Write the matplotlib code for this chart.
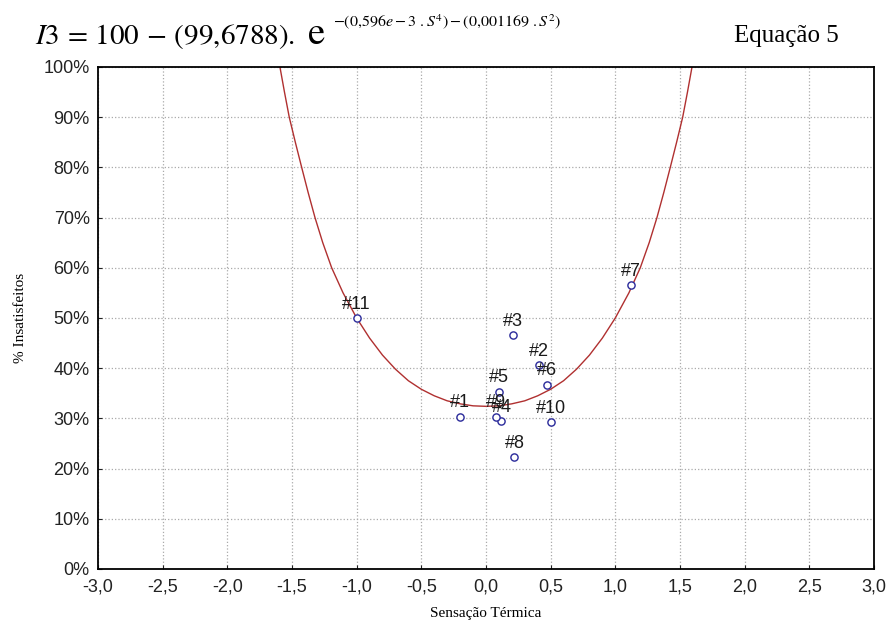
import matplotlib
matplotlib.use('Agg')
from matplotlib import pyplot as plt
from matplotlib.ticker import FuncFormatter, MultipleLocator

plt.rcParams['mathtext.fontset'] = 'stix'

# observed points (sensação térmica, % insatisfeitos)
labels = ['#1', '#2', '#3', '#4', '#5', '#6', '#7', '#8', '#9', '#10', '#11']
sens = [-0.20, 0.41, 0.21, 0.12, 0.10, 0.47, 1.12, 0.22, 0.08, 0.50, -1.00]
insat = [30.3, 40.6, 46.6, 29.4, 35.3, 36.7, 56.5, 22.3, 30.3, 29.3, 50.0]

# fitted curve
curve_s = [-1.593, -1.558, -1.521, -1.474, -1.425, -1.375, -1.322, -1.262, -1.193,
           -1.105, -1.0, -0.9, -0.8, -0.7, -0.6, -0.5, -0.4, -0.3, -0.2, -0.1, 0.0,
           0.1, 0.2, 0.3, 0.4, 0.5, 0.6, 0.7, 0.8, 0.9, 1.0, 1.105, 1.193,
           1.262, 1.322, 1.375, 1.425, 1.474, 1.521, 1.558, 1.593]
curve_y = [100, 95, 90, 85, 80, 75, 70, 65, 60,
           55, 50, 46.0, 42.6, 39.8, 37.5, 35.8, 34.5, 33.5, 32.9, 32.5, 32.4,
           32.5, 32.9, 33.5, 34.5, 35.8, 37.5, 39.8, 42.6, 46.0, 50, 55, 60,
           65, 70, 75, 80, 85, 90, 95, 100]

fig = plt.figure(figsize=(8.89, 6.23), dpi=100)
ax = fig.add_axes([0.1102, 0.0867, 0.8729, 0.8058])

ax.plot(curve_s, curve_y, color='#b03030', lw=1.0, zorder=2, solid_joinstyle='round')
ax.plot(sens, insat, 'o', ms=5.2, mfc='white', mec='#2a2a9a', mew=1.0, zorder=3)
for lab, x, y in zip(labels, sens, insat):
    ax.annotate(lab, (x, y), xytext=(0, 10), textcoords='offset points',
                ha='center', va='center', fontsize=13, family='Liberation Sans',
                color='#1a1a1a', zorder=4)

ax.set_xlim(-3, 3)
ax.set_ylim(0, 100)
ax.xaxis.set_major_locator(MultipleLocator(0.5))
ax.yaxis.set_major_locator(MultipleLocator(10))
ax.xaxis.set_major_formatter(FuncFormatter(lambda v, p: ('%.1f' % v).replace('.', ',')))
ax.yaxis.set_major_formatter(FuncFormatter(lambda v, p: '%d%%' % round(v)))
ax.grid(True, ls=':', color='#aaaaaa', lw=0.9)
ax.set_axisbelow(True)
ax.tick_params(direction='in', length=3, width=0.8, labelsize=13, colors='#222222')
ax.tick_params(axis='x', pad=7)
ax.tick_params(axis='y', pad=6)
for lab in ax.get_xticklabels() + ax.get_yticklabels():
    lab.set_family('Liberation Sans')
for sp in ax.spines.values():
    sp.set_linewidth(1.3)

ax.set_xlabel('Sensação Térmica', family='Liberation Serif', fontsize=11, labelpad=8)
ax.set_ylabel('% Insatisfeitos', family='Liberation Serif', fontsize=11, labelpad=12)

# equation header
fig.text(0.039, 0.930, r'$I3\,=\,100\,-\,(99{,}6788).$', fontsize=21, ha='left', va='baseline')
fig.text(0.345, 0.930, r'$\mathrm{e}$', fontsize=28, ha='left', va='baseline')
fig.text(0.375, 0.958, r'$-(0{,}596e-3\ .S^4)-(0{,}001169\ .S^2)$', fontsize=11.5,
         ha='left', va='baseline')
fig.text(0.885, 0.933, 'Equação 5', family='Liberation Serif', fontsize=18,
         ha='center', va='baseline')

fig.savefig('out.png', dpi=100)
